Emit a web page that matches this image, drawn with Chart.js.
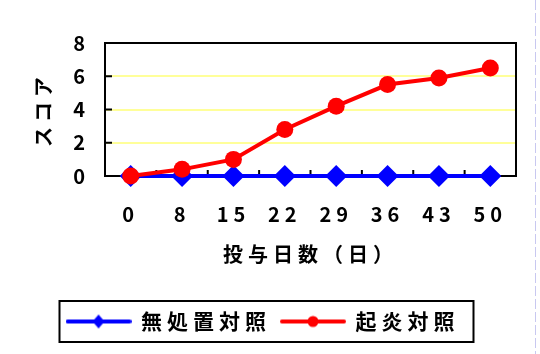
<!DOCTYPE html>
<html>
<head>
<meta charset="utf-8">
<script src="https://cdn.jsdelivr.net/npm/chart.js@4.4.1/dist/chart.umd.min.js"></script>
<style>
  body { margin: 0; background: #fff; }
  #wrap { position: relative; width: 540px; height: 354px; }
  #edge { position: absolute; left: 535px; top: 0; width: 1px; height: 354px;
    background: repeating-linear-gradient(to bottom, #c8c8f0 0 10px, transparent 10px 13px); }
</style>
</head>
<body>
<div id="wrap">
  <canvas id="grafico" width="540" height="354"></canvas>
  <div id="edge"></div>
</div>
<script>
// dati
const giorni = ['0', '8', '15', '22', '29', '36', '43', '50'];
const nomiSerie = ['無処置対照', '起炎対照'];
const valoriControllo = [0, 0, 0, 0, 0, 0, 0, 0];
const valoriInfiammati = [0, 0.4, 1.0, 2.8, 4.2, 5.5, 5.9, 6.5];
const tickY = [0, 2, 4, 6, 8];

const font = 'Noto Sans CJK JP';
const spazio = '5px';

function iconaLegenda(colore, forma) {
    const c = document.createElement('canvas');
    c.width = 66;
    c.height = 18;
    const g = c.getContext('2d');
    g.strokeStyle = colore;
    g.fillStyle = colore;
    g.lineWidth = 4;
    g.lineCap = 'round';
    g.beginPath();
    g.moveTo(2, 9);
    g.lineTo(64, 9);
    g.stroke();
    g.beginPath();
    if (forma === 'rombo') {
        g.moveTo(33 - 6, 9);
        g.lineTo(33, 9 - 7);
        g.lineTo(33 + 6, 9);
        g.lineTo(33, 9 + 7);
        g.closePath();
    } else {
        g.arc(33, 9, 5.5, 0, Math.PI * 2);
    }
    g.fill();
    return c;
}
const icone = [iconaLegenda('#0000ff', 'rombo'), iconaLegenda('#ff0000', 'cerchio')];

// bordo del grafico, tacche interne e riquadro della legenda
const cornice = {
    id: 'cornice',
    beforeLayout(chart) { chart.ctx.letterSpacing = spazio; },
    afterLayout(chart) {
        // la legenda originale e' un po' piu' a destra
        chart.legend.left += 5;
        chart.legend.right += 5;
    },
    beforeDraw(chart) { chart.ctx.letterSpacing = spazio; },
    beforeDatasetsDraw(chart) {
        const ctx = chart.ctx;
        const a = chart.chartArea;
        const x = chart.scales.x;
        const y = chart.scales.y;
        ctx.save();
        ctx.strokeStyle = '#000';
        ctx.lineWidth = 2;
        ctx.strokeRect(a.left, a.top, a.right - a.left, a.bottom - a.top);
        ctx.beginPath();
        tickY.slice(1, -1).forEach(function (v) {
            const py = y.getPixelForValue(v);
            ctx.moveTo(a.left, py);
            ctx.lineTo(a.left + 7, py);
        });
        for (let i = 1; i < giorni.length; i++) {
            const px = (x.getPixelForTick(i - 1) + x.getPixelForTick(i)) / 2;
            ctx.moveTo(px, a.bottom);
            ctx.lineTo(px, a.bottom - 6);
        }
        ctx.stroke();
        ctx.restore();
    },
    afterDraw(chart) {
        const box = chart.legend.legendHitBoxes;
        if (!box.length) return;
        const ultimo = box[box.length - 1];
        const sx = box[0].left - 7;
        const dx = ultimo.left + ultimo.width + 14;
        const su = box[0].top - 10;
        const giu = box[0].top + box[0].height + 10;
        const ctx = chart.ctx;
        ctx.save();
        ctx.strokeStyle = '#000';
        ctx.lineWidth = 2;
        ctx.strokeRect(sx, su, dx - sx, giu - su);
        ctx.restore();
    }
};

const ctx = document.getElementById('grafico');
const grafico = new Chart(ctx, {
    type: 'line',
    data: {
        labels: giorni,
        datasets: [{
            label: nomiSerie[0],
            data: valoriControllo,
            order: 1,
            borderColor: '#0000ff',
            backgroundColor: '#0000ff',
            borderWidth: 4,
            pointStyle: 'rectRot',
            pointRadius: 11,
            pointBorderWidth: 0,
            clip: false
        }, {
            label: nomiSerie[1],
            data: valoriInfiammati,
            order: 0,
            borderColor: '#ff0000',
            backgroundColor: '#ff0000',
            borderWidth: 4,
            pointStyle: 'circle',
            pointRadius: 8.5,
            pointBorderWidth: 0,
            clip: false
        }]
    },
    options: {
        responsive: false,
        animation: false,
        events: [],
        layout: { padding: { left: 0, right: 24, top: 43, bottom: 12 } },
        scales: {
            x: {
                offset: true,
                grid: { display: false },
                border: { display: false },
                ticks: { color: '#000', padding: 18, maxRotation: 0, font: { family: font, size: 20, weight: 'bold' } },
                title: {
                    display: true,
                    text: '投与日数（日）',
                    color: '#000',
                    padding: { top: 0, bottom: 35 },
                    font: { family: font, size: 20, weight: 'bold' }
                },
                afterFit: function (s) { s.height = 125; }
            },
            y: {
                min: 0,
                max: 8,
                afterBuildTicks: function (s) { s.ticks = tickY.map(function (v) { return { value: v }; }); },
                grid: {
                    drawTicks: false,
                    lineWidth: 2,
                    color: function (c) { return (c.tick.value === 0 || c.tick.value === 8) ? 'rgba(0,0,0,0)' : '#ffff99'; }
                },
                border: { display: false },
                ticks: { color: '#000', padding: 15, font: { family: font, size: 20, weight: 'bold' } },
                title: {
                    display: true,
                    text: 'スコア',
                    color: '#000',
                    padding: { top: 31, bottom: 0 },
                    font: { family: font, size: 20, weight: 'bold' }
                },
                afterFit: function (s) { s.width = 105; }
            }
        },
        plugins: {
            tooltip: { enabled: false },
            legend: {
                position: 'bottom',
                labels: {
                    usePointStyle: true,
                    pointStyleWidth: 64,
                    padding: 10,
                    color: '#000',
                    font: { family: font, size: 21, weight: 'bold' },
                    generateLabels: function (chart) {
                        return chart.data.datasets.map(function (ds, i) {
                            return {
                                text: ds.label,
                                pointStyle: icone[i],
                                fillStyle: ds.borderColor,
                                strokeStyle: ds.borderColor,
                                lineWidth: 0,
                                fontColor: '#000',
                                hidden: false,
                                datasetIndex: i
                            };
                        });
                    }
                }
            }
        }
    },
    plugins: [cornice]
});
</script>
</body>
</html>
